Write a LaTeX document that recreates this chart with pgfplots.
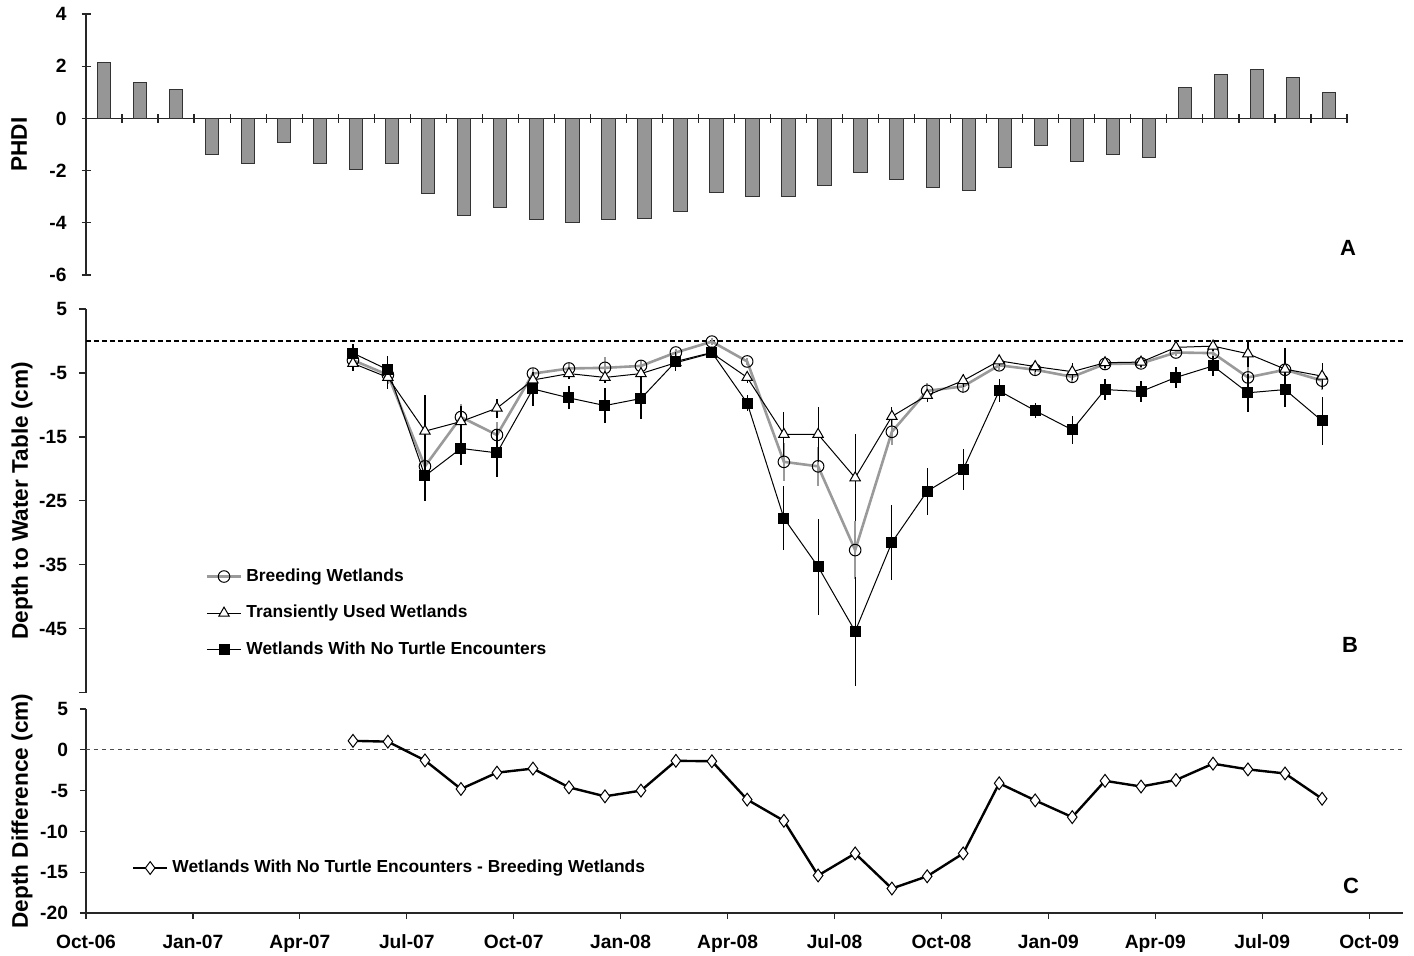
\documentclass[border=0pt]{standalone}
\usepackage{fontspec}
\setmainfont{Liberation Sans}
\usepackage{pgfplots}
\usepackage{pgfplotstable}
\pgfplotsset{compat=1.18}

\definecolor{barfill}{HTML}{969696}
\definecolor{brgray}{HTML}{9A9A9A}

% PHDI, monthly Oct-06 .. Aug-09
\pgfplotstableread{
i phdi
0 2.16
1 1.37
2 1.09
3 -1.40
4 -1.74
5 -0.91
6 -1.74
7 -1.95
8 -1.71
9 -2.89
10 -3.72
11 -3.40
12 -3.88
13 -4.00
14 -3.88
15 -3.84
16 -3.55
17 -2.85
18 -2.98
19 -2.98
20 -2.58
21 -2.08
22 -2.34
23 -2.66
24 -2.76
25 -1.89
26 -1.03
27 -1.64
28 -1.39
29 -1.51
30 1.18
31 1.69
32 1.88
33 1.58
34 0.98
}\phditable

% depth to water table (cm), x in months since Oct-06
\pgfplotstableread{
x br bre tr tre nt nte
7.49 -3.0 1.0 -3.5 1.2 -1.9 1.5
8.47 -5.3 1.5 -5.7 1.8 -4.5 2.2
9.51 -19.6 3.0 -14.1 5.6 -21.1 4.0
10.52 -11.9 2.0 -12.6 2.5 -16.8 2.6
11.53 -14.7 2.0 -10.5 1.5 -17.5 3.8
12.54 -5.1 0.8 -6.1 0.8 -7.5 2.6
13.55 -4.3 0.8 -5.1 0.8 -8.9 1.8
14.56 -4.2 1.7 -5.7 0.8 -10.1 2.8
15.57 -3.9 1.0 -5.1 0.8 -9.0 3.2
16.55 -1.8 0.6 -3.4 0.6 -3.2 1.5
17.56 -0.1 0.5 -1.9 0.5 -1.8 0.8
18.55 -3.2 0.6 -5.7 0.8 -9.7 1.2
19.58 -18.9 3.0 -14.6 3.5 -27.7 5.0
20.54 -19.6 3.0 -14.6 4.3 -35.3 7.5
21.58 -32.7 4.5 -21.4 6.8 -45.4 8.5
22.61 -14.2 2.0 -11.8 1.5 -31.5 5.8
23.60 -7.8 1.2 -8.5 1.0 -23.5 3.7
24.61 -7.1 1.0 -6.2 1.0 -20.1 3.2
25.62 -3.8 0.8 -3.1 0.8 -7.8 1.8
26.63 -4.5 0.8 -4.0 0.8 -10.9 1.2
27.67 -5.6 1.0 -4.8 1.3 -13.9 2.2
28.59 -3.6 0.8 -3.4 0.8 -7.6 1.6
29.60 -3.5 0.8 -3.3 0.8 -7.9 1.6
30.58 -1.8 0.6 -1.0 0.6 -5.7 1.6
31.62 -1.9 0.8 -0.8 0.8 -3.9 1.6
32.60 -5.7 2.5 -2.0 2.0 -8.1 3.0
33.64 -4.5 2.0 -4.4 3.3 -7.6 2.7
34.68 -6.2 1.5 -5.5 2.0 -12.5 3.8
}\depthtable

% no-turtle minus breeding (cm)
\pgfplotstableread{
x d
7.49 1.1
8.47 1.0
9.51 -1.3
10.52 -4.8
11.53 -2.8
12.54 -2.3
13.55 -4.6
14.56 -5.7
15.57 -5.0
16.55 -1.35
17.56 -1.4
18.55 -6.1
19.58 -8.7
20.54 -15.4
21.58 -12.7
22.61 -17.0
23.60 -15.5
24.61 -12.7
25.62 -4.1
26.63 -6.2
27.67 -8.25
28.59 -3.8
29.60 -4.5
30.58 -3.7
31.62 -1.7
32.60 -2.4
33.64 -2.9
34.68 -6.0
}\difftable

\pgfplotsset{
  panel/.style={
    scale only axis,
    anchor=south west,
    clip=false,
    axis line style={black!85, line width=0.6pt},
    tick style={black!85, line width=0.6pt},
    tick label style={font=\bfseries\fontsize{9.6}{11}\selectfont},
    yticklabel style={xshift=-2.5pt},
    label style={font=\bfseries\fontsize{11.3}{13}\selectfont},
    /pgf/number format/assume math mode=true,
  },
}

\begin{document}
\begin{tikzpicture}

% ---- A: PHDI bars
\begin{axis}[panel,
    at={(43pt,340pt)}, width=630.5pt, height=130.5pt,
    xmin=-0.5, xmax=34.5, ymin=-6, ymax=4,
    axis x line*=middle, axis y line*=left,
    xtick={-0.5,0.5,...,34.5}, xticklabels={},
    xtick align=center, major tick length=4.5pt,
    ytick={-6,-4,...,4}, ytick align=center,
    yticklabel style={xshift=-1.5pt},
    ylabel={PHDI},
    ylabel style={at={(axis description cs:-0.053,0.5)}, anchor=center},
]
\addplot[ybar, bar width=0.37, fill=barfill, draw=black!80, line width=0.5pt]
    table[x=i, y=phdi] {\phditable};
\end{axis}

% ---- B: depth to water table
\begin{axis}[panel,
    at={(43pt,131.15pt)}, width=658.5pt, height=191.85pt,
    xmin=0, xmax=36.95, ymin=-55, ymax=5,
    axis x line=none, axis y line*=left,
    ytick={-55,-45,...,5}, yticklabels={,-45,-35,-25,-15,-5,5},
    ytick align=outside, major tick length=3.5pt,
    ylabel={Depth to Water Table (cm)},
    ylabel style={at={(axis description cs:-0.0486,0.5)}, anchor=center},
    legend style={at={(axis description cs:0.086,0.345)}, anchor=north west,
        draw=none, fill=none, font=\bfseries\fontsize{8.7}{10}\selectfont,
        row sep=6.5pt},
    legend cell align=left,
]
\addplot[forget plot, black, dash pattern=on 2.5pt off 1.5pt, line width=0.6pt]
    coordinates {(0,0) (36.95,0)};
\addplot[brgray, line width=1.3pt, mark=o, mark size=2.9pt,
    mark options={draw=black, fill=white, line width=0.5pt, solid},
    error bars/.cd, y dir=both, y explicit, error mark=none,
    error bar style={brgray, line width=0.8pt}]
    table[x=x, y=br, y error=bre] {\depthtable};
\addlegendentry{Breeding Wetlands}
\addplot[black, line width=0.5pt, mark=triangle*, mark size=3pt,
    mark options={draw=black, fill=white, line width=0.5pt},
    error bars/.cd, y dir=both, y explicit, error mark=none,
    error bar style={black, line width=0.6pt}]
    table[x=x, y=tr, y error=tre] {\depthtable};
\addlegendentry{Transiently Used Wetlands}
\addplot[black, line width=0.5pt, mark=square*, mark size=2.5pt,
    mark options={fill=black},
    error bars/.cd, y dir=both, y explicit, error mark=none,
    error bar style={black, line width=0.6pt}]
    table[x=x, y=nt, y error=nte] {\depthtable};
\addlegendentry{Wetlands With No Turtle Encounters}
\end{axis}

% ---- C: depth difference
\begin{axis}[panel,
    at={(43pt,21pt)}, width=658.5pt, height=102pt,
    xmin=0, xmax=36.95, ymin=-20, ymax=5,
    axis x line*=bottom, axis y line*=left,
    xtick={0,3,...,36},
    xticklabels={Oct-06,Jan-07,Apr-07,Jul-07,Oct-07,Jan-08,Apr-08,Jul-08,Oct-08,Jan-09,Apr-09,Jul-09,Oct-09},
    xticklabel style={yshift=-4.5pt},
    ytick={-20,-15,...,5},
    tick align=outside, major tick length=3pt,
    ylabel={Depth Difference (cm)},
    ylabel style={at={(axis description cs:-0.0486,0.5)}, anchor=center},
    legend style={at={(axis description cs:0.03,0.3)}, anchor=north west,
        draw=none, fill=none, font=\bfseries\fontsize{8.7}{10}\selectfont},
    legend cell align=left,
]
\addplot[forget plot, black!70, dash pattern=on 2pt off 2pt, line width=0.5pt]
    coordinates {(0,0) (36.95,0)};
\addplot[black, line width=1.2pt, mark=diamond*, mark size=3.2pt,
    mark options={fill=white, line width=0.5pt}]
    table[x=x, y=d] {\difftable};
\addlegendentry{Wetlands With No Turtle Encounters - Breeding Wetlands}
\end{axis}

\node[font=\bfseries\fontsize{11}{13}\selectfont] at (674pt,353.5pt) {A};
\node[font=\bfseries\fontsize{11}{13}\selectfont] at (675pt,155pt) {B};
\node[font=\bfseries\fontsize{11}{13}\selectfont] at (675.5pt,34.5pt) {C};

\pgfresetboundingbox
\useasboundingbox (0,0) rectangle (707pt,477.5pt);
\end{tikzpicture}
\end{document}
